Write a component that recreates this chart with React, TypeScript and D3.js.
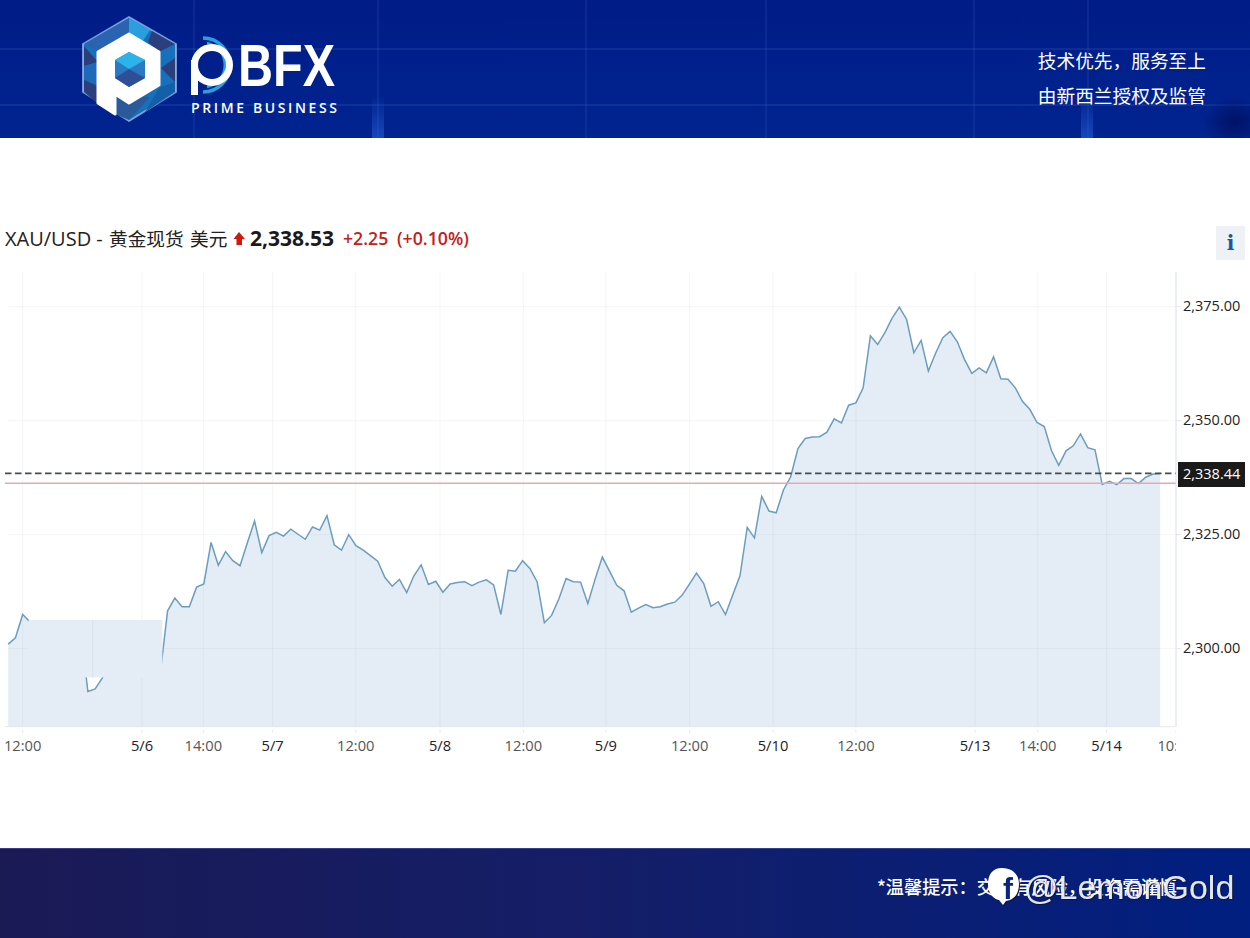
import React from "react";
import * as d3 from "d3";

// closing prices, one per sampled bar (values at index 3-10 and 14-21 sit behind the patch, estimated)
const prices = [
  2301.0, 2302.4, 2307.5, 2305.9, 2305.0, 2304.0, 2302.0, 2300.0, 2301.0, 2303.0,
  2304.1, 2290.6, 2291.2, 2293.6, 2297.0, 2300.0, 2302.0, 2299.0, 2297.0, 2298.0,
  2296.0, 2294.8, 2308.3, 2311.1, 2309.2, 2309.2, 2313.5, 2314.2, 2323.3, 2318.3,
  2321.3, 2319.3, 2318.2, 2323.2, 2328.0, 2321.1, 2324.8, 2325.5, 2324.7, 2326.2,
  2325.1, 2324.0, 2326.7, 2326.0, 2329.2, 2322.8, 2321.6, 2325.0, 2322.6, 2321.6,
  2320.4, 2319.2, 2315.6, 2313.7, 2315.2, 2312.3, 2316.0, 2318.4, 2314.1, 2314.8,
  2312.4, 2314.2, 2314.5, 2314.7, 2313.8, 2314.6, 2315.1, 2314.0, 2307.5, 2317.2,
  2317.0, 2319.3, 2317.6, 2314.7, 2305.7, 2307.3, 2310.9, 2315.4, 2314.7, 2314.6,
  2309.9, 2315.2, 2320.1, 2317.0, 2313.9, 2312.7, 2308.0, 2308.9, 2309.7, 2309.0,
  2309.2, 2309.8, 2310.2, 2311.7, 2314.1, 2316.6, 2314.3, 2309.3, 2310.3, 2307.5,
  2311.8, 2316.0, 2326.6, 2324.3, 2333.4, 2330.2, 2329.8, 2334.8, 2337.7, 2343.9,
  2346.1, 2346.4, 2346.5, 2347.5, 2350.4, 2349.5, 2353.4, 2353.9, 2357.2, 2368.6,
  2366.7, 2369.3, 2372.5, 2374.9, 2372.2, 2364.9, 2367.6, 2360.9, 2364.8, 2368.2,
  2369.6, 2367.3, 2363.4, 2360.4, 2361.6, 2360.5, 2364.0, 2359.2, 2359.1, 2357.2,
  2354.2, 2352.5, 2349.6, 2348.7, 2343.4, 2340.2, 2343.4, 2344.5, 2347.1, 2344.1,
  2343.6, 2336.0, 2336.7, 2336.0, 2337.3, 2337.3, 2336.2, 2337.6, 2338.3, 2338.4,
];

const priceTicks = [2300, 2325, 2350, 2375];
const timeLabels = ["12:00", "5/6", "14:00", "5/7", "12:00", "5/8", "12:00", "5/9", "12:00", "5/10", "12:00", "5/13", "14:00", "5/14", "10:00"];
const timeIndex = [2, 18.47, 26.93, 36.5, 47.97, 59.6, 71.1, 82.5, 94.06, 105.56, 117, 133.44, 142.1, 151.6, 161.2];
const hiddenGridIndex = [11.66];

const lastPrice = 2338.44;
const prevClose = 2336.28;
// the flat block covering the line early on
const patchIndex = [2.8, 21.27];
const patchPrice = [2293.7, 2306.3];

const FONT = "'Open Sans', 'Noto Sans CJK SC', sans-serif";
const CJK = "'Noto Sans CJK SC', sans-serif";
const SANS = "'Liberation Sans', sans-serif";
const FILL = "#e4edf5";
const LINE = "#6b9dbd";

const x = d3.scaleLinear().domain([0, 159]).range([8.2, 1160.2]);
const y = d3.scaleLinear().domain([2300, 2375]).range([648.7, 306.7]);
const bottom = 726.7;

const area = d3.area<number>().x((_, i) => x(i)).y0(bottom).y1((d) => y(d));
const line = d3.line<number>().x((_, i) => x(i)).y((d) => y(d));

const isDate = (s: string) => s.includes("/");

const Logo = () => (
  <g>
    <path
      d="M129 17 L176 44 L176 92 L129 121 L83 92 L83 44 Z"
      fill="#1670bc"
      stroke="#a8c6f0"
      strokeOpacity={0.7}
      strokeWidth={2}
      strokeLinejoin="round"
    />
    <path d="M129 18 L150 30 L141 44 L129 34 Z" fill="#2a9fe0" />
    <path d="M129 18 L108 30 L112 44 L129 34 Z" fill="#2a63b0" />
    <path d="M108 30 L84 44 L98 52 L112 44 Z" fill="#2a63b0" />
    <path d="M152 31 L175 44 L159 52 L148 42 Z" fill="#2b3f7c" />
    <path d="M84 46 L98 62 L84 66 Z" fill="#2b3f7c" />
    <path d="M84 66 L98 62 L98 86 L84 80 Z" fill="#1f6ab8" />
    <path d="M84 80 L98 86 L98 104 L84 92 Z" fill="#2b3f7c" />
    <path d="M175 58 L175 82 L161 68 Z" fill="#2b3f7c" />
    <path d="M175 82 L175 92 L145 112 L159 88 Z" fill="#155ea8" />
    <path d="M115 94 L150 97 L129 120 L115 114 Z" fill="#2a5a9c" />
    <path
      d="M129 34 L159 52 L159 85 L129 103 L115 94 L115 114 L98 103 L98 52 Z"
      fill="#fff"
      stroke="#fff"
      strokeWidth={3}
      strokeLinejoin="round"
    />
    <path d="M129 52 L145 60 L145 78 L129 87 L115 78 L115 60 Z" fill="#2b78c4" />
    <path d="M129 52 L145 60 L129 69 L115 60 Z" fill="#2ab4ea" />
    <path d="M115 78 L129 69 L145 78 L129 87 Z" fill="#2e4f96" />
  </g>
);

const BrandP = () => (
  <g fill="none">
    <path d="M203 38 A27 27 0 0 1 203 92" stroke="#2a9fe0" strokeWidth={3.5} />
    <path d="M207 43 A22.5 22.5 0 0 1 207 87" stroke="#2a9fe0" strokeWidth={2.5} />
    <circle cx={212} cy={65} r={17.5} stroke="#fff" strokeWidth={7} />
    <rect x={191} y={60} width={7} height={35} fill="#fff" />
  </g>
);

export default function App() {
  return (
    <svg
      width={1250}
      height={938}
      style={{ position: "absolute", left: 0, top: 0, display: "block", background: "#fff" }}
    >
      <defs>
        <linearGradient id="banner" x1="0" x2="0" y1="0" y2="1">
          <stop offset="0" stopColor="#001c86" />
          <stop offset="1" stopColor="#012490" />
        </linearGradient>
        <linearGradient id="foot" x1="0" x2="1" y1="0" y2="0">
          <stop offset="0" stopColor="#1a1a55" />
          <stop offset="0.5" stopColor="#141e68" />
          <stop offset="1" stopColor="#001f80" />
        </linearGradient>
        <linearGradient id="glow" x1="0" x2="0" y1="0" y2="1">
          <stop offset="0" stopColor="#2a62e0" stopOpacity={0} />
          <stop offset="1" stopColor="#2a62e0" stopOpacity={0.55} />
        </linearGradient>
        <radialGradient id="dark">
          <stop offset="0" stopColor="#001060" stopOpacity={0.9} />
          <stop offset="1" stopColor="#001060" stopOpacity={0} />
        </radialGradient>
        <clipPath id="xclip">
          <rect x={0} y={730} width={1176} height={40} />
        </clipPath>
        <clipPath id="bannerClip">
          <rect x={0} y={0} width={1250} height={138} />
        </clipPath>
      </defs>

      {/* banner */}
      <g clipPath="url(#bannerClip)">
        <rect x={0} y={0} width={1250} height={138} fill="url(#banner)" />
        {[48, 104].map((b) => (
          <rect key={b} x={0} y={b} width={1250} height={2} fill="#4a72d0" opacity={0.18} />
        ))}
        {[193, 377, 585, 765, 973, 1087].map((b) => (
          <rect key={b} x={b} y={0} width={2} height={138} fill="#4a72d0" opacity={0.15} />
        ))}
        <rect x={372} y={95} width={12} height={43} fill="url(#glow)" />
        <rect x={1081} y={95} width={12} height={43} fill="url(#glow)" />
        <ellipse cx={1235} cy={122} rx={32} ry={26} fill="url(#dark)" />
      </g>
      <Logo />
      <BrandP />
      <text x={238} y={86} fill="#fff" fontFamily={SANS} fontSize={59} fontWeight={700} textLength={97} lengthAdjust="spacingAndGlyphs">
        BFX
      </text>
      <text x={191} y={113} fill="#fff" fontFamily={FONT} fontSize={14} fontWeight={600} textLength={146} lengthAdjust="spacing">
        PRIME BUSINESS
      </text>
      <text x={1206} y={68} textAnchor="end" fill="#fff" fontFamily={CJK} fontSize={18.7}>
        技术优先，服务至上
      </text>
      <text x={1206} y={103} textAnchor="end" fill="#fff" fontFamily={CJK} fontSize={18.7}>
        由新西兰授权及监管
      </text>

      {/* quote line */}
      <text x={5} y={246} fontFamily={FONT} fontSize={20} fill="#222">
        XAU/USD -
        <tspan x={109} fontFamily={CJK} fontSize={18.7}>黄金现货</tspan>
        <tspan x={190} fontFamily={CJK} fontSize={18.7}>美元</tspan>
      </text>
      <path d="M239 232 L245 239 L242 239 L242 245 L236.5 245 L236.5 239 L233.5 239 Z" fill="#cc1a10" />
      <text x={250} y={246} fontFamily={FONT} fontSize={21} fontWeight={700} fill="#1a1a1a">
        2,338.53
      </text>
      <text x={343} y={244.5} fontFamily={FONT} fontSize={17.7} fontWeight={600} fill="#c4201a">
        +2.25
      </text>
      <text x={397} y={244.5} fontFamily={FONT} fontSize={17.7} fontWeight={600} fill="#c4201a">
        (+0.10%)
      </text>
      <rect x={1216} y={226} width={29} height={34} fill="#eef1f5" />
      <text x={1230.5} y={250} textAnchor="middle" fontFamily="'DejaVu Serif', serif" fontSize={20} fontWeight={700} fill="#1a5a9a">
        i
      </text>

      {/* price area */}
      <path d={area(prices) ?? ""} fill={FILL} />

      {/* grid */}
      {priceTicks.map((t) => (
        <line key={t} x1={8} x2={1176} y1={y(t)} y2={y(t)} stroke="#8aa0b5" strokeOpacity={0.1} />
      ))}
      {timeIndex.map((t, i) => (
        <line key={i} x1={x(t)} x2={x(t)} y1={272} y2={bottom} stroke="#8aa0b5" strokeOpacity={0.1} />
      ))}

      <path d={line(prices) ?? ""} fill="none" stroke={LINE} strokeWidth={1.5} />

      {/* patch over the line */}
      <rect
        x={x(patchIndex[0])}
        y={y(patchPrice[1])}
        width={x(patchIndex[1]) - x(patchIndex[0])}
        height={y(patchPrice[0]) - y(patchPrice[1])}
        fill={FILL}
      />
      {hiddenGridIndex.map((t) => (
        <line key={t} x1={x(t)} x2={x(t)} y1={y(patchPrice[1])} y2={y(patchPrice[0])} stroke="#8aa0b5" strokeOpacity={0.14} />
      ))}

      {/* reference levels */}
      <line x1={5} x2={1176} y1={y(prevClose)} y2={y(prevClose)} stroke="#e8a9ae" strokeWidth={1.5} />
      <line x1={5} x2={1176} y1={y(lastPrice)} y2={y(lastPrice)} stroke="#444c55" strokeWidth={1.6} strokeDasharray="6.5 3.5" />

      {/* axes */}
      <line x1={5} x2={1176} y1={bottom} y2={bottom} stroke="#e3e7ee" />
      <line x1={1176} x2={1176} y1={272} y2={bottom} stroke="#dfe3ee" />
      {priceTicks.map((t) => (
        <g key={t}>
          <line x1={1176} x2={1181} y1={y(t)} y2={y(t)} stroke="#e3e7ee" />
          <text x={1183} y={y(t) + 4} fontFamily={FONT} fontSize={14.5} fill="#222">
            {d3.format(",.2f")(t)}
          </text>
        </g>
      ))}
      <g clipPath="url(#xclip)">
        {timeLabels.map((s, i) => (
          <g key={i}>
            <line x1={x(timeIndex[i])} x2={x(timeIndex[i])} y1={bottom} y2={bottom + 6} stroke="#e3e7ee" />
            <text
              x={x(timeIndex[i])}
              y={750.5}
              textAnchor="middle"
              fontFamily={FONT}
              fontSize={14.7}
              fill={isDate(s) ? "#222" : "#555"}
            >
              {s}
            </text>
          </g>
        ))}
      </g>

      {/* last price tag */}
      <rect x={1178} y={462} width={67} height={25} fill="#1a1a1a" />
      <text x={1183} y={y(lastPrice) + 5.5} fontFamily={FONT} fontSize={14.5} fontWeight={500} fill="#fff">
        {d3.format(",.2f")(lastPrice)}
      </text>

      {/* footer */}
      <rect x={0} y={848} width={1250} height={90} fill="url(#foot)" />
      <rect x={0} y={848} width={1250} height={1} fill="#4a5aa8" opacity={0.6} />
      <text x={877} y={894} fontFamily={CJK} fontSize={18.2} fontWeight={500} fill="#fff">
        *温馨提示：交易有风险，投资需谨慎
      </text>
      <g style={{ filter: "drop-shadow(1px 1px 0 #0a1540)" }}>
        <path
          d="M1002 868 C993 868 988 874 988 884 C988 893 993 899 999 900 L1003 905 L1006 901 C1014 900 1019 894 1019 884 C1019 874 1012 868 1002 868 Z"
          fill="#fff"
        />
        <text x={1008} y={899} textAnchor="middle" fontFamily={SANS} fontWeight={700} fontSize={30} fill="#0c2680">
          f
        </text>
        <text x={1024} y={899} fontFamily={SANS} fontSize={34} fill="#fff" fillOpacity={0.9}>
          @LemonGold
        </text>
      </g>
    </svg>
  );
}
